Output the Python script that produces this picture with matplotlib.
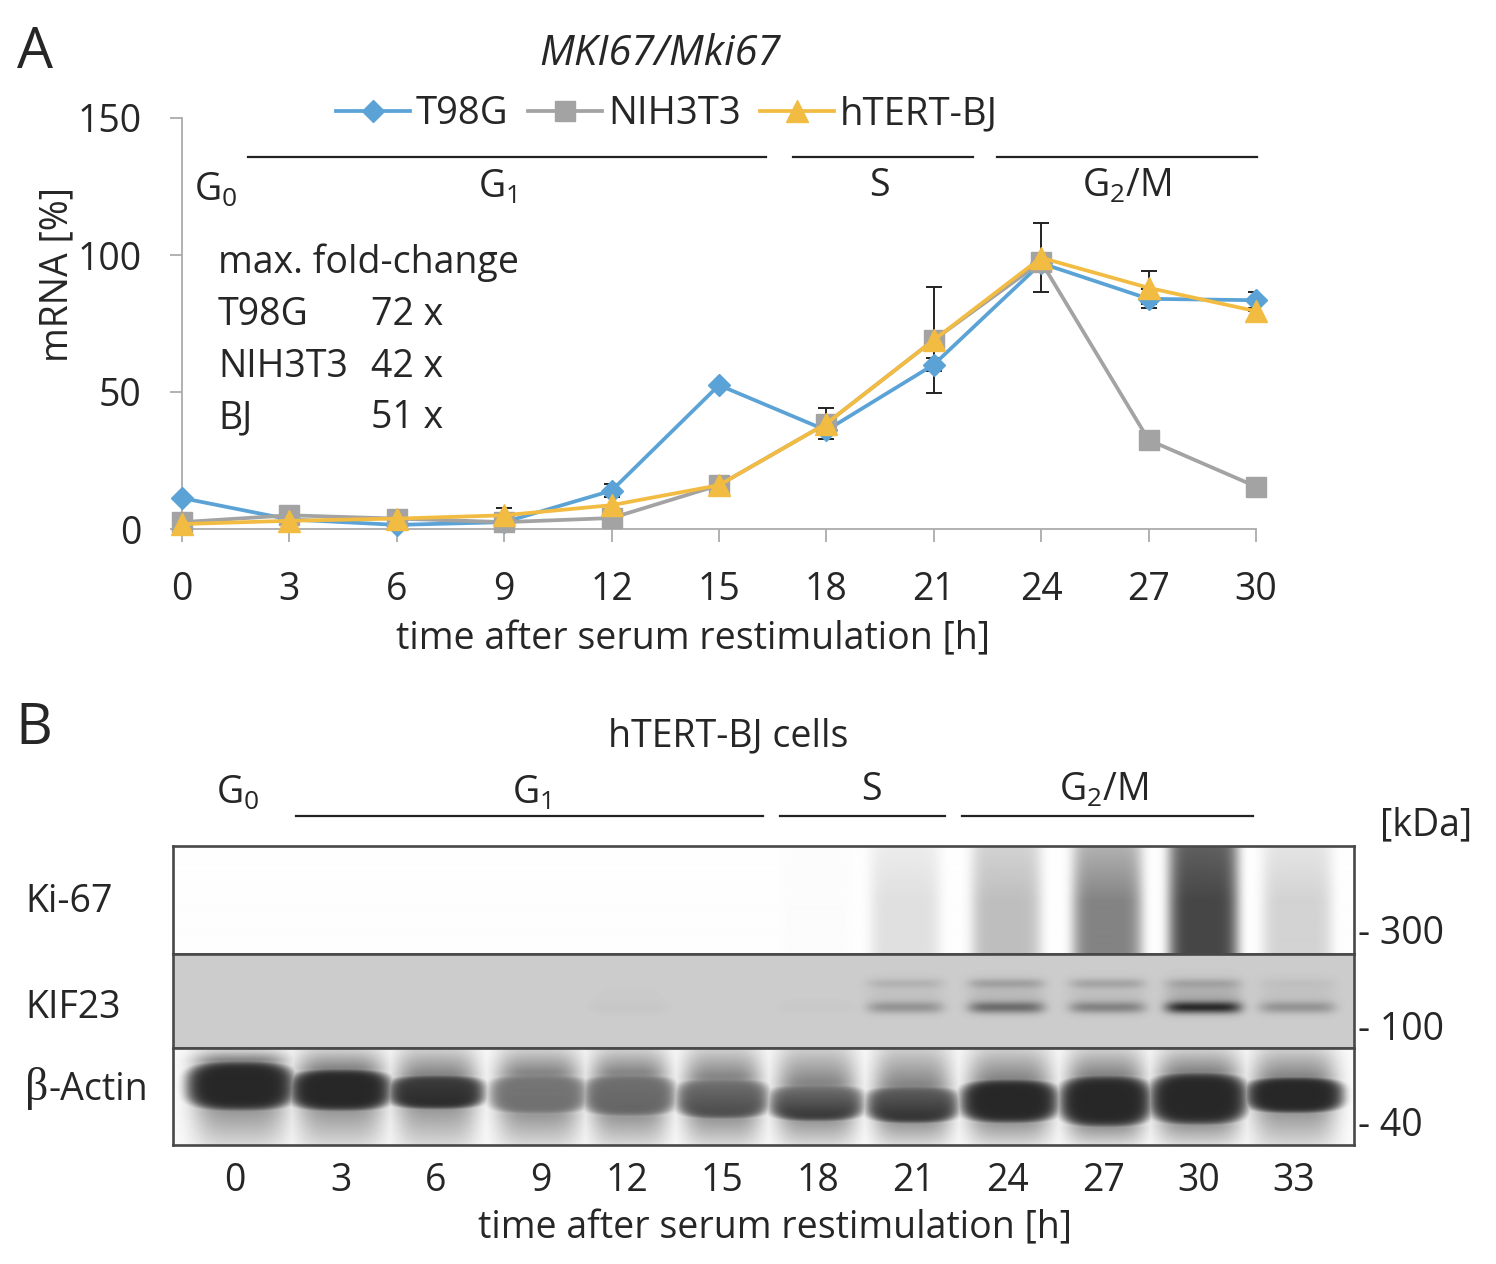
import numpy as np
import matplotlib
matplotlib.use("Agg")
import matplotlib.pyplot as plt

plt.rcParams['font.family'] = ['Open Sans', 'DejaVu Sans']
plt.rcParams['mathtext.default'] = 'regular'

W, H = 1496, 1264
INK = '#262626'
FS = 27

# panel A
hours = [0, 3, 6, 9, 12, 15, 18, 21, 24, 27, 30]
t98g = [11.3, 3.5, 1.5, 2.5, 14, 52.5, 36, 60, 97, 84, 83.5]
nih3t3 = [2.5, 5, 3.8, 2.5, 4, 16, 38.5, 69, 97.5, 32.5, 15.5]
bj = [1.8, 3, 3.8, 5, 8.7, 16, 38.5, 69, 99, 88, 79.5]
t98g_err = [0, 0, 0, 0, 2.5, 0, 0, 2.5, 0, 3.5, 3]
bj_err = [0, 0, 0, 2.6, 3, 0, 5.5, 19.5, 12.5, 6, 0]

# panel B, one entry per lane
lanes = ['0', '3', '6', '9', '12', '15', '18', '21', '24', '27', '30', '33']
lane_x = [235, 341, 436, 541, 627, 722, 818, 913, 1008, 1104, 1199, 1294]
band_x = [240, 340, 436, 538, 629, 722, 816, 905, 1006, 1107, 1203, 1297]
actin_x = [240, 340, 436, 538, 629, 722, 816, 912, 1009, 1105, 1198, 1294]
actin_half = [55, 52, 49, 50, 47, 47, 48, 47, 50, 47, 50, 50]
ki67_top = [0, 0, 0, 0, 0, 0, 0.01, 0.07, 0.17, 0.30, 0.62, 0.10]
ki67_mid = [0, 0, 0, 0, 0, 0, 0.01, 0.12, 0.25, 0.48, 0.72, 0.17]
kif23_upper = [0, 0, 0, 0, 0, 0, 0, 0.08, 0.14, 0.13, 0.11, 0.03]
kif23_lower = [0, 0, 0, 0, 0.02, 0, 0.01, 0.20, 0.34, 0.26, 0.58, 0.20]
actin_top_y = [1060, 1068, 1074, 1072, 1072, 1076, 1082, 1084, 1078, 1074, 1071, 1076]
actin_bot_y = [1112, 1112, 1110, 1116, 1118, 1120, 1122, 1124, 1124, 1128, 1126, 1114]
actin_upper_dark = [0.83, 0.83, 0.74, 0.52, 0.54, 0.52, 0.50, 0.58, 0.83, 0.83, 0.83, 0.83]
actin_lower_dark = [0.83, 0.83, 0.83, 0.55, 0.60, 0.72, 0.82, 0.83, 0.83, 0.83, 0.83, 0.83]


def px(x, y):
    return x / W, 1 - y / H


def label(x, y, s, ha='center', size=FS, **kw):
    kw.setdefault('color', INK)
    fig.text(*px(x, y), s, ha=ha, va='center', fontsize=size, **kw)


def hbar(x0, x1, y):
    fig.add_artist(plt.Line2D([x0 / W, x1 / W], [1 - y / H] * 2, color='#222222', lw=1.6))


def add_panel(img, y0, y1):
    left, bottom = px(173, y1)
    a = fig.add_axes([left, bottom, (1354 - 173) / W, (y1 - y0) / H])
    a.imshow(img, cmap='gray', vmin=0, vmax=1, aspect='auto', interpolation='bilinear')
    a.set_xticks([])
    a.set_yticks([])
    for s in a.spines.values():
        s.set_linewidth(1.9)
        s.set_color('#484848')
    return a


def lane_shape(xs, c, half, power=6):
    return np.exp(-np.abs((xs - c) / half) ** power)


fig = plt.figure(figsize=(W / 100, H / 100), dpi=100)

# ---- A ----
left, bottom = px(182, 529)
ax = fig.add_axes([left, bottom, (1256 - 182) / W, (529 - 118) / H])
ax.errorbar(hours, t98g, yerr=t98g_err, fmt='none', ecolor='#222222', elinewidth=1.4, capsize=6, capthick=1.4, zorder=2)
ax.errorbar(hours, bj, yerr=bj_err, fmt='none', ecolor='#222222', elinewidth=1.4, capsize=6, capthick=1.4, zorder=2)
ax.plot(hours, t98g, color='#5BA3D6', lw=2.7, marker='D', ms=11, clip_on=False, zorder=3, label='T98G')
ax.plot(hours, nih3t3, color='#A3A3A3', lw=2.7, marker='s', ms=14, clip_on=False, zorder=4, label='NIH3T3')
ax.plot(hours, bj, color='#F2BC42', lw=2.7, marker='^', ms=16, clip_on=False, zorder=5, label='hTERT-BJ')
ax.set_xlim(0, 30)
ax.set_ylim(0, 150)
ax.set_xticks(hours)
ax.set_yticks([0, 50, 100, 150])
ax.tick_params(axis='both', length=9, width=1.3, color='#ABABAB', labelsize=FS, labelcolor=INK)
ax.tick_params(axis='x', pad=21)
ax.tick_params(axis='y', pad=20)
ax.spines['top'].set_visible(False)
ax.spines['right'].set_visible(False)
ax.spines['left'].set_color('#ABABAB')
ax.spines['bottom'].set_color('#ABABAB')
ax.spines['left'].set_linewidth(1.3)
ax.spines['bottom'].set_linewidth(1.3)
ax.patch.set_alpha(0)
fig.legend(loc='center', bbox_to_anchor=px(667, 114), ncols=3, frameon=False, fontsize=27.5,
           handlelength=1.95, handletextpad=0.15, columnspacing=0.5, labelcolor=INK)

label(35, 53, 'A', size=41)
label(660, 54, 'MKI67/Mki67', style='italic', size=30)
label(57, 275, 'mRNA [%]', rotation=90)
label(693, 639, 'time after serum restimulation [h]')
hbar(248, 766, 157)
hbar(793, 973, 157)
hbar(997, 1257, 157)
label(216, 191, 'G$_0$')
label(497, 188, 'G$_1$')
label(879, 186, 'S')
label(1127, 187, 'G$_2$/M')
label(218, 263, 'max. fold-change', ha='left')
label(218, 315, 'T98G', ha='left')
label(218, 367, 'NIH3T3', ha='left')
label(218, 418, 'BJ', ha='left')
label(371, 315, '72 x', ha='left')
label(371, 367, '42 x', ha='left')
label(371, 418, '51 x', ha='left')

# ---- B ----
xs = np.arange(173, 1354)

ys = np.arange(846, 954)
ki67 = np.zeros((len(ys), len(xs))) + 0.995
for c, top, mid in zip(band_x, ki67_top, ki67_mid):
    ramp = top + (mid - top) * np.clip((ys - 846) / 55, 0, 1)
    ki67 -= np.outer(ramp, lane_shape(xs, c, 35))
add_panel(ki67, 846, 954)

ys = np.arange(954, 1048)
kif23 = np.zeros((len(ys), len(xs))) + 0.80
for c, up, low in zip(band_x, kif23_upper, kif23_lower):
    band = up * np.exp(-((ys - 983) / 5) ** 2) + low * np.exp(-((ys - 1007) / 6) ** 2) + 0.2 * low * np.exp(-((ys - 995) / 14) ** 2)
    kif23 -= np.outer(band, lane_shape(xs, c, 38))
add_panel(kif23, 954, 1048)

ys = np.arange(1048, 1145)
yy, xx = np.meshgrid(ys, xs, indexing='ij')
actin = np.zeros(yy.shape)
for i, c in enumerate(actin_x):
    y0, y1 = actin_top_y[i], actin_bot_y[i]
    mid, half_h = (y0 + y1) / 2, (y1 - y0) / 2
    frac = np.clip((yy - y0) / (y1 - y0), 0, 1)
    ramp = actin_upper_dark[i] + (actin_lower_dark[i] - actin_upper_dark[i]) * frac
    dist = np.abs((xx - c) / actin_half[i]) ** 3 + np.abs((yy - mid) / half_h) ** 3
    band = ramp * np.exp(-dist ** 3)
    # faint smear above and below the main band
    above = np.where(yy < mid, 0.2 + 0.26 * np.clip((yy - 1052) / (y0 - 1052), 0, 1), 0)
    below = np.where(yy >= mid, 0.38 - 0.23 * np.clip((yy - y1) / (1143 - y1), 0, 1), 0)
    smear = (above + below) * np.exp(-np.abs((xx - c) / (actin_half[i] - 8)) ** 4)
    actin = np.maximum(actin, smear)
    actin = np.maximum(actin, band)
add_panel(0.985 - actin, 1048, 1145)

label(34, 729, 'B', size=41)
label(728, 736, 'hTERT-BJ cells')
label(238, 794, 'G$_0$')
label(531, 794, 'G$_1$')
label(871, 790, 'S')
label(1104, 791, 'G$_2$/M')
hbar(296, 763, 816)
hbar(780, 945, 816)
hbar(962, 1253, 816)
label(1426, 825, '[kDa]')
label(25, 902, 'Ki-67', ha='left')
label(25, 1008, 'KIF23', ha='left')
label(25, 1088, 'β', ha='left', family='Liberation Serif', size=33)
label(49, 1090, '-Actin', ha='left')
label(1358, 934, '- 300', ha='left')
label(1358, 1030, '- 100', ha='left')
label(1358, 1126, '- 40', ha='left')
for x, s in zip(lane_x, lanes):
    label(x, 1181, s)
label(775, 1228, 'time after serum restimulation [h]')

fig.savefig('out.png', dpi=100)
